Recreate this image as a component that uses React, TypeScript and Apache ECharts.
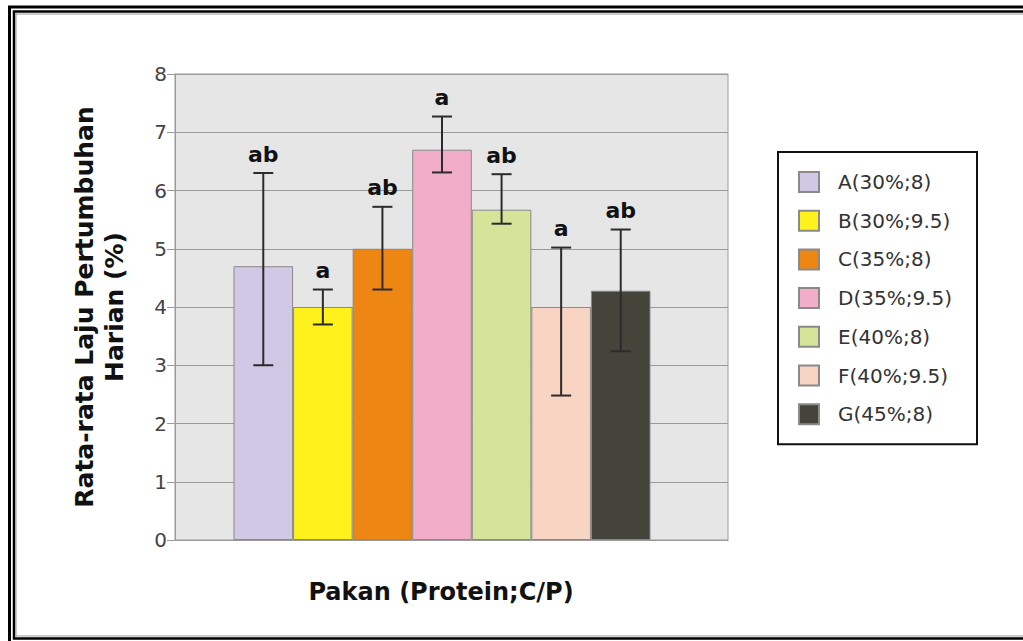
import React, { useEffect, useRef } from "react";
import * as echarts from "echarts";

const categories = ["A(30%;8)", "B(30%;9.5)", "C(35%;8)", "D(35%;9.5)", "E(40%;8)", "F(40%;9.5)", "G(45%;8)"];
const means = [4.7, 4.0, 5.0, 6.7, 5.67, 4.0, 4.28];
const errLow = [3.0, 3.7, 4.3, 6.31, 5.43, 2.48, 3.24];
const errHigh = [6.3, 4.3, 5.72, 7.27, 6.28, 5.02, 5.33];
const letters = ["ab", "a", "ab", "a", "ab", "a", "ab"];
const colors = ["#D0C8E4", "#FFF21C", "#EE8613", "#F2AEC8", "#D4E59A", "#F8D4C2", "#45443A"];
const yTicks = [0, 8, 1];

const FONT = "'DejaVu Sans', sans-serif";

export default function App() {
  const ref = useRef<HTMLDivElement>(null);
  useEffect(() => {
    if (!ref.current) return;
    const chart = echarts.init(ref.current, null, { renderer: "svg" });
    const gridTop = 74;
    const gridH = 466;
    const barSeries = categories.map((name, i) => ({
      name,
      type: "bar",
      xAxisIndex: 1,
      yAxisIndex: 1,
      stack: "all",
      barWidth: "100%",
      data: categories.map((_, j) => (j === i ? means[i] : "-")),
      itemStyle: { color: colors[i], borderColor: "#8a8a8a", borderWidth: 1 },
      z: 3,
    }));
    const errData = categories.map((_, i) => [i, means[i], errLow[i], errHigh[i], letters[i]]);
    chart.setOption({
      animation: false,
      backgroundColor: "#ffffff",
      textStyle: { fontFamily: FONT },
      grid: [
        { left: 175, top: gridTop, width: 553, height: gridH, show: true, backgroundColor: "#E6E6E6", borderColor: "#9a9a9a", borderWidth: 1 },
        { left: 233.5, top: gridTop, width: 417, height: gridH },
      ],
      xAxis: [
        { type: "category", gridIndex: 0, data: [""], axisLine: { show: true, lineStyle: { color: "#9a9a9a" } }, axisTick: { show: false }, axisLabel: { show: false } },
        { type: "category", gridIndex: 1, data: categories, show: false },
      ],
      yAxis: [
        {
          type: "value",
          gridIndex: 0,
          min: yTicks[0],
          max: yTicks[1],
          interval: yTicks[2],
          name: "Rata-rata Laju Pertumbuhan\nHarian (%)",
          nameLocation: "middle",
          nameGap: 46,
          nameTextStyle: { fontFamily: FONT, fontWeight: "bold", fontSize: 25, lineHeight: 30, color: "#111", align: "center" },
          axisLine: { show: true, lineStyle: { color: "#9a9a9a" } },
          axisTick: { show: true, length: 8, lineStyle: { color: "#9a9a9a" } },
          axisLabel: { fontFamily: FONT, fontSize: 20, color: "#444", margin: 8 },
          splitLine: { show: true, lineStyle: { color: "#9a9a9a", width: 1 } },
        },
        { type: "value", gridIndex: 1, min: yTicks[0], max: yTicks[1], interval: yTicks[2], show: false, splitLine: { show: false } },
      ],
      legend: {
        orient: "vertical",
        left: 778,
        top: 152,
        data: categories,
        icon: "rect",
        itemWidth: 20,
        itemHeight: 20,
        itemGap: 16.7,
        padding: [19, 25, 19, 20],
        backgroundColor: "#ffffff",
        borderColor: "#111",
        borderWidth: 2,
        textStyle: { fontFamily: FONT, fontSize: 20, lineHeight: 20, color: "#333", padding: [0, 0, 0, 14] },
      },
      series: [
        ...barSeries,
        {
          type: "custom",
          xAxisIndex: 1,
          yAxisIndex: 1,
          z: 10,
          data: errData,
          renderItem: (params: any, api: any) => {
            const x = api.coord([api.value(0), api.value(1)])[0];
            const yLo = api.coord([api.value(0), api.value(2)])[1];
            const yHi = api.coord([api.value(0), api.value(3)])[1];
            const cap = 10;
            const style = { stroke: "#2b2b2b", lineWidth: 2 };
            return {
              type: "group",
              children: [
                { type: "line", shape: { x1: x, y1: yLo, x2: x, y2: yHi }, style },
                { type: "line", shape: { x1: x - cap, y1: yHi, x2: x + cap, y2: yHi }, style },
                { type: "line", shape: { x1: x - cap, y1: yLo, x2: x + cap, y2: yLo }, style },
                {
                  type: "text",
                  style: {
                    text: String(errData[params.dataIndex][4]),
                    x,
                    y: yHi - 8,
                    align: "center",
                    verticalAlign: "bottom",
                    fontFamily: FONT,
                    fontWeight: "bold",
                    fontSize: 22,
                    fill: "#111",
                  },
                },
              ],
            };
          },
        },
      ],
      graphic: [
        {
          type: "text",
          x: 441,
          y: 592,
          style: { text: "Pakan (Protein;C/P)", fontFamily: FONT, fontWeight: "bold", fontSize: 24, fill: "#111", align: "center", verticalAlign: "middle" },
        },
        { type: "rect", shape: { x: 9.5, y: 7, width: 1040, height: 660 }, style: { fill: "none", stroke: "#000", lineWidth: 3 }, z: 100 },
        { type: "rect", shape: { x: 14, y: 11.5, width: 1040, height: 627 }, style: { fill: "none", stroke: "#000", lineWidth: 2.5 }, z: 100 },
        { type: "rect", shape: { x: 16, y: 14, width: 1040, height: 622 }, style: { fill: "none", stroke: "#999", lineWidth: 1 }, z: 100 },
      ],
    });
    return () => chart.dispose();
  }, []);
  return <div ref={ref} style={{ position: "fixed", left: 0, top: 0, width: 1023, height: 641 }} />;
}
